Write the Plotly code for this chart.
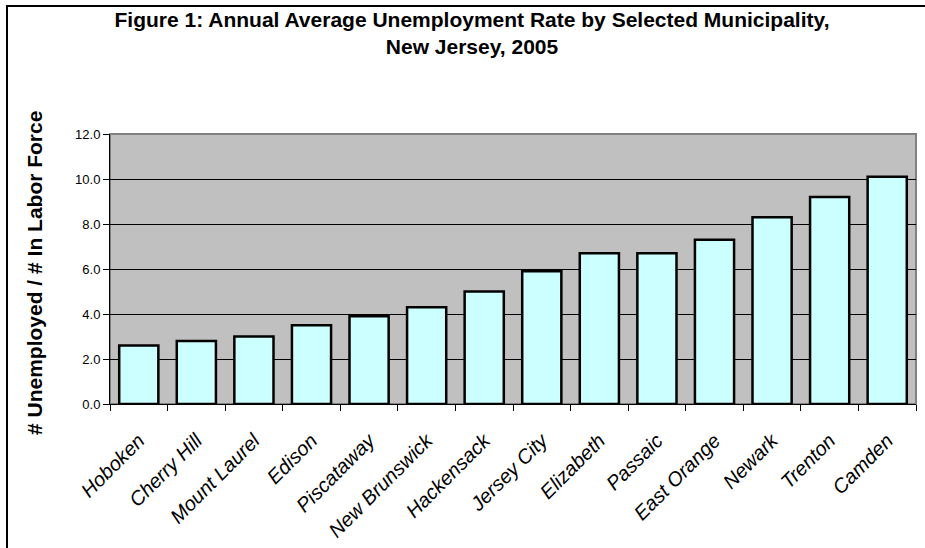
import plotly.graph_objects as go

municipalities = ["Hoboken", "Cherry Hill", "Mount Laurel", "Edison", "Piscataway",
                  "New Brunswick", "Hackensack", "Jersey City", "Elizabeth", "Passaic",
                  "East Orange", "Newark", "Trenton", "Camden"]
unemployment_rate = [2.6, 2.8, 3.0, 3.5, 3.9, 4.3, 5.0, 5.9, 6.7, 6.7, 7.3, 8.3, 9.2, 10.1]
y_ticks = [0, 2, 4, 6, 8, 10, 12]

W, H = 925, 548
L, R, T, B = 110, 9, 134, 144
pw, ph = W - L - R, H - T - B

def px_x(x):
    return (x - L) / pw

def px_y(y):
    return (H - B - y) / ph

font_family = "Arial, Liberation Sans, sans-serif"

fig = go.Figure()
fig.add_trace(go.Bar(
    x=municipalities, y=unemployment_rate,
    marker=dict(color="#CCFFFF", line=dict(color="black", width=2.5)),
    hoverinfo="x+y",
))

fig.update_layout(
    width=W, height=H,
    margin=dict(l=L, r=R, t=T, b=B, pad=0, autoexpand=False),
    paper_bgcolor="white",
    plot_bgcolor="#C0C0C0",
    bargap=0.32,
    showlegend=False,
    font=dict(family=font_family, color="black"),
    title=dict(
        text="<b>Figure 1: Annual Average Unemployment Rate by Selected Municipality,<br>New Jersey, 2005</b>",
        x=472 / W, xanchor="center",
        y=1 - 27 / H, yanchor="top",
        font=dict(size=21, family=font_family, color="black"),
    ),
    xaxis=dict(
        type="category",
        automargin=False,
        tickson="boundaries",
        ticks="outside", ticklen=6, tickcolor="black", tickwidth=1,
        showline=True, linecolor="black", linewidth=1,
        showgrid=False,
        tickangle=-45,
        ticklabelstandoff=16,
        tickfont=dict(size=20, family=font_family, style="italic", color="black"),
    ),
    yaxis=dict(
        range=[0, 12], tickvals=y_ticks, tickformat=".1f",
        automargin=False,
        ticks="outside", ticklen=6, tickcolor="black", tickwidth=1,
        showline=True, linecolor="black", linewidth=1,
        showgrid=True, gridcolor="black", gridwidth=1,
        zeroline=False,
        tickfont=dict(size=13, family=font_family, color="black"),
    ),
    shapes=[
        dict(type="rect", xref="paper", yref="paper", x0=0, x1=1, y0=0, y1=1,
             line=dict(color="#808080", width=2), layer="below"),
        dict(type="rect", xref="paper", yref="paper",
             x0=px_x(7), x1=px_x(W + 20), y0=px_y(H + 20), y1=px_y(6),
             line=dict(color="black", width=2)),
    ],
    annotations=[
        dict(text="<b># Unemployed / # In Labor Force</b>", textangle=-90,
             xref="paper", yref="paper", x=px_x(34), y=px_y(273),
             xanchor="center", yanchor="middle", showarrow=False,
             font=dict(size=21, family=font_family, color="black")),
    ],
)

fig.write_html("out.html")
